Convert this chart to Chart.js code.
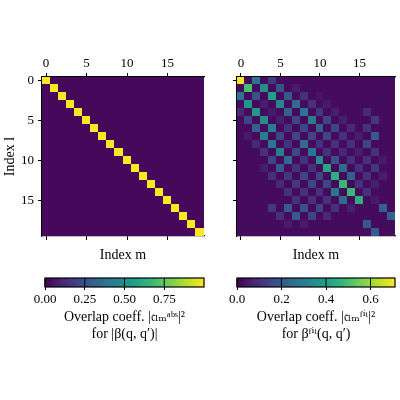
<!DOCTYPE html>
<html><head><meta charset="utf-8">
<script src="https://cdn.jsdelivr.net/npm/chart.js@4"></script>
<style>body{margin:0;background:#fff}canvas{position:absolute;left:0;top:0}</style>
</head><body>
<canvas id="h1" width="400" height="400"></canvas>
<canvas id="h2" width="400" height="400"></canvas>
<canvas id="c1" width="400" height="400"></canvas>
<canvas id="c2" width="400" height="400"></canvas>
<script>
const N = 20;
const axisTicks = [0, 5, 10, 15];
const cbTicksLeft = [0, 0.25, 0.5, 0.75];
const cbTicksRight = [0, 0.2, 0.4, 0.6];
const cbMaxLeft = 1.0;
const cbMaxRight = 0.71;
const bgValue = 0.02;
// right matrix: sparse rows of [column, value]
const fitRows = [
 [[0,.7],[2,.28],[4,.12]],
 [[1,.5],[3,.35],[5,.18],[7,.06]],
 [[0,.28],[2,.18],[4,.4],[6,.2],[8,.1],[10,.04]],
 [[1,.38],[3,.06],[5,.33],[7,.25],[9,.1],[11,.05]],
 [[0,.08],[2,.38],[4,.05],[6,.22],[8,.28],[10,.12],[12,.06],[16,.08]],
 [[1,.15],[3,.35],[5,.06],[7,.15],[9,.3],[11,.15],[13,.06],[17,.12]],
 [[2,.22],[4,.3],[6,.1],[8,.15],[10,.22],[12,.15],[14,.08],[16,.1]],
 [[1,.05],[3,.3],[5,.15],[7,.15],[9,.15],[11,.15],[13,.1],[15,.06],[17,.2]],
 [[2,.08],[4,.28],[6,.1],[8,.25],[10,.1],[12,.1],[14,.1],[16,.15]],
 [[3,.1],[5,.3],[7,.15],[9,.28],[11,.1],[13,.08],[15,.06],[17,.1]],
 [[4,.15],[6,.25],[8,.1],[10,.35],[12,.18],[14,.1],[16,.1],[18,.05]],
 [[3,.06],[5,.2],[7,.1],[9,.1],[11,.42],[13,.25],[15,.1],[17,.12]],
 [[4,.1],[6,.12],[8,.15],[10,.15],[12,.45],[14,.22],[16,.1],[18,.06]],
 [[5,.08],[7,.12],[9,.15],[11,.15],[13,.48],[15,.1],[17,.06]],
 [[6,.1],[8,.1],[10,.1],[12,.28],[14,.48],[16,.1]],
 [[7,.1],[9,.1],[11,.1],[13,.25],[15,.45],[17,.05]],
 [[4,.12],[6,.2],[8,.18],[10,.15],[12,.1],[14,.06],[18,.22]],
 [[5,.1],[7,.2],[9,.15],[11,.08],[19,.22]],
 [[6,.05],[8,.05],[16,.2]],
 [[17,.2]]
];
const absDiag = 1.0;

const VIR = [[68,1,84],[72,40,120],[62,73,137],[49,104,142],[38,130,142],[31,158,137],[53,183,121],[110,206,88],[181,222,43],[253,231,37]];
function viridis(t){t=Math.max(0,Math.min(1,t));const p=t*(VIR.length-1),i=Math.min(VIR.length-2,Math.floor(p)),f=p-i;
 const a=VIR[i],b=VIR[i+1];return `rgb(${a.map((v,k)=>Math.round(v+(b[k]-v)*f)).join(',')})`;}

function buildFull(rows, diag){
 const pts=[];
 for(let l=0;l<N;l++)for(let m=0;m<N;m++){
  let v=bgValue;
  if(diag!==undefined){ if(l===m) v=diag; }
  else { const e=rows[l].find(c=>c[0]===m); if(e) v=e[1]; }
  pts.push({x:m,y:l,v});
 }
 return pts;
}
const FONT={family:"'Liberation Serif','DejaVu Serif',serif",size:14};
const TFONT={family:"'Liberation Serif','DejaVu Serif',serif",size:13};
const fix=(w,h)=>function(s){if(w!==null)s.width=w;if(h!==null)s.height=h;};
const setTicks=(arr)=>function(s){s.ticks=arr.map(v=>({value:v}));};

function heat(id, pts, vmax, left, right, showY){
 const heatPlugin={id:'heat'+id,beforeDatasetsDraw(ch){
  const c=ch.ctx,xs=ch.scales.x,ys=ch.scales.y,a=ch.chartArea;
  c.save();c.beginPath();c.rect(a.left,a.top,a.right-a.left,a.bottom-a.top);c.clip();
  ch.data.datasets[0].data.forEach(p=>{
   const x0=xs.getPixelForValue(p.x-0.5),x1=xs.getPixelForValue(p.x+0.5);
   const y0=ys.getPixelForValue(p.y-0.5),y1=ys.getPixelForValue(p.y+0.5);
   c.fillStyle=viridis(p.v/vmax);
   c.fillRect(Math.floor(Math.min(x0,x1)),Math.floor(Math.min(y0,y1)),Math.ceil(Math.abs(x1-x0))+1,Math.ceil(Math.abs(y1-y0))+1);
  });
  c.restore();}};
 const grid={display:true,drawOnChartArea:false,color:'#000',tickLength:4};
 const border={display:true,color:'#000',width:1.2};
 new Chart(document.getElementById(id),{type:'scatter',
  data:{datasets:[{data:pts,pointRadius:0}]},
  options:{responsive:false,animation:false,events:[],
   layout:{padding:{left:0,right:400-right,top:0,bottom:400-236-28}},
   plugins:{legend:{display:false},tooltip:{enabled:false}},
   scales:{
    x:{type:'linear',position:'bottom',min:-0.5,max:19.5,afterBuildTicks:setTicks(axisTicks),afterFit:fix(null,28),
       grid,border,ticks:{display:true,callback:()=>'',padding:0},
       title:{display:true,text:'Index m',color:'#000',font:FONT,padding:0}},
    xt:{type:'linear',position:'top',min:-0.5,max:19.5,afterBuildTicks:setTicks(axisTicks),afterFit:fix(null,77),
       grid,border,ticks:{color:'#000',font:TFONT,padding:2,maxRotation:0}},
    y:{type:'linear',position:'left',reverse:true,min:-0.5,max:19.5,afterBuildTicks:setTicks(axisTicks),afterFit:fix(left,null),
       grid,border,ticks:{display:true,color:'#000',font:TFONT,padding:4,callback:v=>showY?String(v):''},
       title:{display:showY,text:'Index l',color:'#000',font:FONT,padding:2}}
   }},plugins:[heatPlugin]});
}
heat('h1',buildFull(null,absDiag),cbMaxLeft,42,204,true);
heat('h2',buildFull(fitRows),cbMaxRight,237,395,false);

function cbar(id,left,right,vmax,ticks,title){
 const grad={id:'g'+id,beforeDatasetsDraw(ch){
  const c=ch.ctx,a=ch.chartArea,xs=ch.scales.x;
  for(let px=a.left;px<a.right;px++){c.fillStyle=viridis(xs.getValueForPixel(px+0.5)/vmax);c.fillRect(px,a.top,1.2,a.bottom-a.top);}
  c.strokeStyle='#000';c.lineWidth=1;
  ticks.forEach(v=>{const px=xs.getPixelForValue(v);c.beginPath();c.moveTo(px,a.top);c.lineTo(px,a.bottom);c.stroke();});
  c.lineWidth=1.2;c.strokeRect(a.left,a.top,a.right-a.left,a.bottom-a.top);
 }};
 new Chart(document.getElementById(id),{type:'scatter',data:{datasets:[{data:[],pointRadius:0}]},
  options:{responsive:false,animation:false,events:[],
   layout:{padding:{left:left,right:400-right,top:278,bottom:400-287-56}},
   plugins:{legend:{display:false},tooltip:{enabled:false}},
   scales:{
    x:{type:'linear',min:0,max:vmax,afterBuildTicks:setTicks(ticks),afterFit:fix(null,56),
       grid:{display:true,drawOnChartArea:false,color:'#000',tickLength:3},border:{display:false},
       ticks:{color:'#000',font:TFONT,padding:2,maxRotation:0,callback:v=>vmax===1?v.toFixed(2):v.toFixed(1)},
       title:{display:true,text:title,color:'#000',font:FONT,padding:{top:4,bottom:0}}},
    y:{display:false,min:0,max:1}
   }},plugins:[grad]});
}
cbar('c1',45,204,cbMaxLeft,cbTicksLeft,['Overlap coeff. |𝔠ₗₘᵃᵇˢ|²','for |β(q, q′)|']);
cbar('c2',237,395,cbMaxRight,cbTicksRight,['Overlap coeff. |𝔠ₗₘᶠⁱᵗ|²','for βᶠⁱᵗ(q, q′)']);
</script></body></html>
